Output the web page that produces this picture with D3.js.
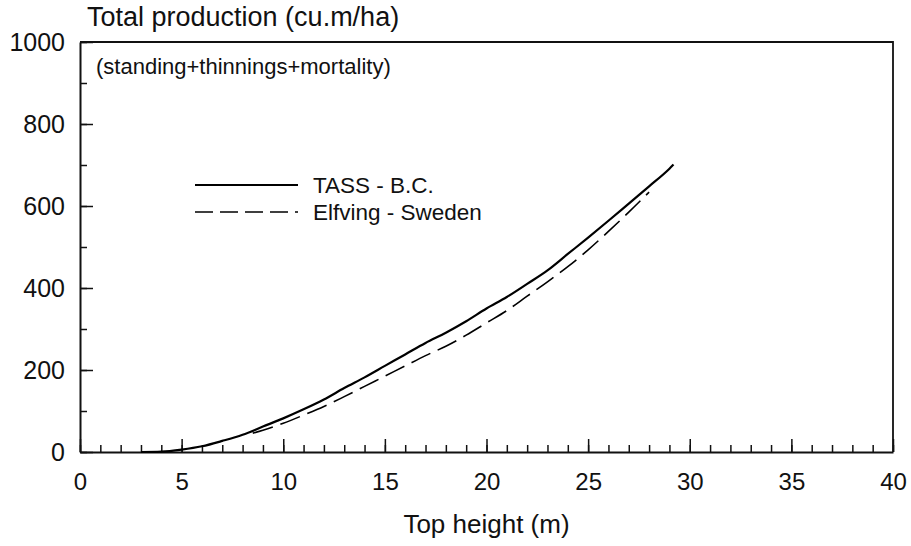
<!DOCTYPE html>
<html>
<head>
<meta charset="utf-8">
<script src="https://cdn.jsdelivr.net/npm/d3@7"></script>
<style>
  html, body { margin: 0; padding: 0; background: #fff; }
  svg { display: block; font-family: "Liberation Sans", Arial, sans-serif; }
</style>
</head>
<body>
<svg id="drawing_region"></svg>
<script>
// Top height (m) and total production (cu.m/ha)
const tassHeight = [3, 4, 5, 6, 7, 8, 9, 10, 11, 12, 13, 14, 15, 16, 17, 18, 19, 20, 21, 22, 23, 24, 25, 26, 27, 28, 29, 29.2];
const tassValue  = [0, 1, 6, 14, 27, 42, 62, 82, 104, 128, 156, 182, 210, 238, 266, 291, 319, 350, 378, 410, 443, 483, 523, 564, 606, 648, 691, 701];

const elfHeight = [8.5, 9, 10, 11, 12, 13, 14, 15, 16, 17, 18, 19, 20, 21, 22, 23, 24, 25, 26, 27, 28];
const elfValue  = [46, 53, 70, 90, 111, 135, 160, 185, 210, 235, 258, 285, 315, 345, 380, 415, 452, 493, 538, 585, 634];

const xMajorTicks = [0, 5, 10, 15, 20, 25, 30, 35, 40];
const xMinorTicks = d3.range(0, 41, 1);
const yMajorTicks = [0, 200, 400, 600, 800, 1000];
const yMinorTicks = d3.range(0, 1001, 100);

const legendLabels = ["TASS - B.C.", "Elfving - Sweden"];

const width = 911, height = 546;
const margin = {top: 42, right: 18, bottom: 94, left: 80};

const svg = d3.select('#drawing_region')
    .attr('width', width)
    .attr('height', height);

const xscale = d3.scaleLinear().domain([0, 40]).range([margin.left, width - margin.right]);
const yscale = d3.scaleLinear().domain([0, 1000]).range([height - margin.bottom, margin.top]);

const axisColor = '#111';

// minor ticks, pointing into the plot
svg.append('g')
    .attr('transform', `translate(0, ${yscale(0)})`)
    .call(d3.axisBottom(xscale).tickValues(xMinorTicks).tickSize(-7).tickSizeOuter(0).tickFormat(''))
    .call(g => g.select('.domain').remove());

svg.append('g')
    .attr('transform', `translate(${xscale(0)}, 0)`)
    .call(d3.axisLeft(yscale).tickValues(yMinorTicks).tickSize(-7).tickSizeOuter(0).tickFormat(''))
    .call(g => g.select('.domain').remove());

// major ticks with labels
const xaxis_group = svg.append('g')
    .attr('transform', `translate(0, ${yscale(0)})`)
    .call(d3.axisBottom(xscale).tickValues(xMajorTicks).tickSize(-13).tickSizeOuter(0).tickPadding(21));
xaxis_group.selectAll('text')
    .attr('font-size', '24px')
    .attr('fill', axisColor);

const yaxis_group = svg.append('g')
    .attr('transform', `translate(${xscale(0)}, 0)`)
    .call(d3.axisLeft(yscale).tickValues(yMajorTicks).tickSize(-13).tickSizeOuter(0).tickPadding(15).tickFormat(d3.format('d')));
yaxis_group.selectAll('text')
    .attr('font-size', '25px')
    .attr('fill', axisColor);

svg.selectAll('.tick line').attr('stroke', axisColor).attr('stroke-width', 1.5);
svg.selectAll('.domain').attr('stroke', axisColor).attr('stroke-width', 2);
svg.selectAll('.tick text').attr('font-family', '"Liberation Sans", Arial, sans-serif');

// top and right frame
svg.append('path')
    .attr('d', `M${xscale(0)},${yscale(1000)}H${xscale(40)}V${yscale(0)}`)
    .attr('fill', 'none')
    .attr('stroke', axisColor)
    .attr('stroke-width', 1.8);

// curves
const line = d3.line()
    .x(d => xscale(d[0]))
    .y(d => yscale(d[1]))
    .curve(d3.curveMonotoneX);

svg.append('path')
    .datum(d3.zip(tassHeight, tassValue))
    .attr('d', line)
    .attr('fill', 'none')
    .attr('stroke', '#000')
    .attr('stroke-width', 2.2);

svg.append('path')
    .datum(d3.zip(elfHeight, elfValue))
    .attr('d', line)
    .attr('fill', 'none')
    .attr('stroke', '#000')
    .attr('stroke-width', 1.6)
    .attr('stroke-dasharray', '21,8');

// legend
const legend = svg.append('g');
legendLabels.forEach((label, i) => {
    const y = 185 + i * 27;
    legend.append('line')
        .attr('x1', 195).attr('x2', 298)
        .attr('y1', y).attr('y2', y)
        .attr('stroke', '#000')
        .attr('stroke-width', i == 0 ? 1.8 : 1.4)
        .attr('stroke-dasharray', i == 0 ? null : '18,7');
    legend.append('text')
        .attr('x', 313)
        .attr('y', y + 8)
        .attr('font-size', '22.5px')
        .attr('fill', axisColor)
        .text(label);
});

// titles
svg.append('text')
    .attr('x', 87)
    .attr('y', 26)
    .attr('font-size', '27px')
    .attr('fill', axisColor)
    .text('Total production (cu.m/ha)');

svg.append('text')
    .attr('x', 96)
    .attr('y', 74)
    .attr('font-size', '22px')
    .attr('fill', axisColor)
    .text('(standing+thinnings+mortality)');

svg.append('text')
    .attr('x', xscale(20))
    .attr('y', 533)
    .attr('text-anchor', 'middle')
    .attr('font-size', '26px')
    .attr('fill', axisColor)
    .text('Top height (m)');
</script>
</body>
</html>
